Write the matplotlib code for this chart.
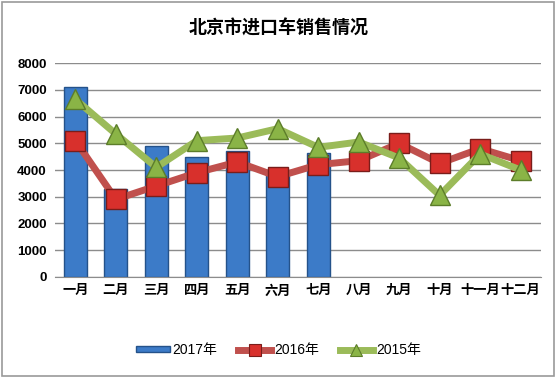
import matplotlib
matplotlib.use('Agg')
import matplotlib.pyplot as plt
import numpy as np
from matplotlib.patches import Rectangle, Patch
from matplotlib.lines import Line2D

plt.rcParams['font.family'] = ['Liberation Sans', 'Noto Sans CJK SC']

# data
months = ['一月', '二月', '三月', '四月', '五月', '六月', '七月', '八月', '九月', '十月', '十一月', '十二月']
sales_2017 = [7100, 3300, 4900, 4500, 4700, 4000, 4650]
sales_2016 = [5100, 2900, 3400, 3900, 4300, 3750, 4200, 4350, 5000, 4250, 4800, 4350]
sales_2015 = [6650, 5350, 4100, 5100, 5200, 5550, 4850, 5050, 4450, 3050, 4600, 4000]
yticks = [0, 1000, 2000, 3000, 4000, 5000, 6000, 7000, 8000]

fig = plt.figure(figsize=(5.57, 3.78), dpi=100)
ax = fig.add_axes([0.099, 0.268, 0.872, 0.5645])

x = np.arange(len(months))
ax.bar(x[:len(sales_2017)], sales_2017, width=0.57, color='#3c7bc8',
       edgecolor='#24528a', linewidth=1, zorder=2)
ax.plot(x, sales_2016, color='#c0504d', lw=5, marker='s', ms=15,
        mfc='#d8302c', mec='#7a1d1a', mew=1, zorder=3)
ax.plot(x, sales_2015, color='#9bbb59', lw=5, marker='^', ms=15,
        mfc='#8ab446', mec='#5c7d2a', mew=1, zorder=4)

ax.set_xlim(-0.5, len(months) - 0.5)
ax.set_ylim(0, 8000)
ax.set_yticks(yticks)
ax.set_xticks(x)
ax.set_xticklabels(months, fontweight='bold', fontsize=9.5)
for t in ax.get_yticklabels():
    t.set_fontweight('bold')
    t.set_fontsize(9.5)
ax.tick_params(length=0, pad=6)
ax.yaxis.grid(True, color='#8c8c8c', lw=1)
ax.set_axisbelow(True)
for s in ['left', 'top', 'right']:
    ax.spines[s].set_visible(False)
ax.spines['bottom'].set_color('#8c8c8c')

fig.text(0.5, 0.925, '北京市进口车销售情况', ha='center', va='center',
         fontsize=13, fontweight='bold')

handles = [
    Patch(facecolor='#3c7bc8', edgecolor='#24528a'),
    Line2D([], [], color='#c0504d', lw=5, marker='s', ms=8,
           mfc='#d8302c', mec='#7a1d1a', mew=0.8),
    Line2D([], [], color='#9bbb59', lw=5, marker='^', ms=8,
           mfc='#8ab446', mec='#5c7d2a', mew=0.8),
]
fig.legend(handles, ['2017年', '2016年', '2015年'],
           loc='center', bbox_to_anchor=(0.5, 0.074), ncol=3, frameon=False,
           fontsize=10, handlelength=2.4, columnspacing=1.5, handletextpad=0.2,
           handleheight=0.35)

fig.patches.append(Rectangle((0.004, 0.006), 0.99, 0.988, transform=fig.transFigure,
                             fill=False, edgecolor='#9a9a9a', lw=1.2))

fig.savefig('out.png', dpi=100)
